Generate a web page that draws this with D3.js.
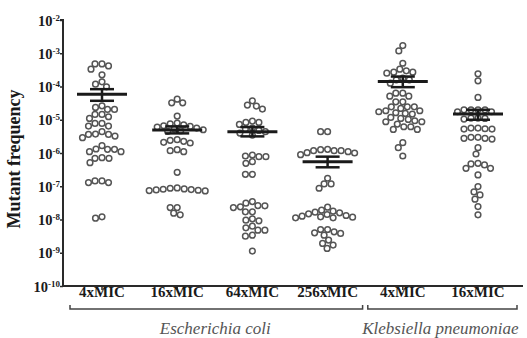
<!DOCTYPE html>
<html>
<head>
<meta charset="utf-8">
<script src="https://cdn.jsdelivr.net/npm/d3@7/dist/d3.min.js"></script>
<style>
  html, body { margin: 0; padding: 0; background: #fff; }
  svg { display: block; }
</style>
</head>
<body>
<svg id="chart" width="527" height="338"></svg>
<script>
// ---- data (log10 of mutant frequency) ----
const categories = ["4xMIC", "16xMIC", "64xMIC", "256xMIC", "4xMIC", "16xMIC"];
const species = ["Escherichia coli", "Klebsiella pneumoniae"];
const speciesGroups = [[0, 3], [4, 5]];
const yTickExponents = [-2, -3, -4, -5, -6, -7, -8, -9, -10];

const ecoli4 = [-3.32, -3.32, -3.38, -3.48, -3.65, -3.86, -3.93, -4.01,
  -4.63, -4.69, -4.84, -4.84, -4.69, -4.58,
  -4.91, -5.11, -5.19, -5.19, -5.11, -4.96,
  -5.43, -5.44, -5.54, -5.49, -5.44, -5.36,
  -5.78, -5.89, -5.96, -5.96, -5.89, -5.88,
  -6.14, -6.29, -6.16, -6.16,
  -6.84, -6.89, -6.89, -6.84,
  -7.96, -7.92];
const ecoli16 = [-4.38, -4.49, -4.49, -4.89,
  -5.10, -5.12, -5.15, -5.18, -5.20, -5.22, -5.25, -5.28, -5.30, -5.33, -5.35,
  -5.60, -5.62, -5.65, -5.68, -5.70,
  -5.90, -5.93, -5.96,
  -6.58,
  -7.06, -7.08, -7.10, -7.12, -7.14, -7.13, -7.11, -7.09, -7.05,
  -7.64, -7.86, -7.81, -7.64];
const ecoli64 = [-4.43, -4.56, -4.59, -4.68,
  -5.04, -5.08, -5.08, -5.14,
  -5.25, -5.28, -5.32, -5.36, -5.40, -5.46,
  -6.06, -6.09, -6.11, -6.11, -6.26, -6.31,
  -6.64, -6.64,
  -7.46, -7.51, -7.58, -7.59, -7.62, -7.64, -7.77, -7.77,
  -7.98, -8.02, -8.04,
  -8.20, -8.25, -8.32, -8.32, -8.47, -8.50,
  -8.95];
const ecoli256 = [-5.36, -5.36,
  -5.89, -5.90, -5.93, -5.93, -5.93, -5.96, -5.99, -6.00, -6.05,
  -6.76, -6.93, -6.93, -7.06,
  -7.63,
  -7.72, -7.75, -7.78, -7.80, -7.83, -7.85, -7.88, -7.90, -7.92, -7.93, -7.95, -7.95,
  -8.30, -8.30, -8.37, -8.40, -8.42, -8.47, -8.62, -8.72, -8.77, -8.87];
const kleb4 = [-2.77, -2.93, -3.30,
  -3.48, -3.53, -3.57, -3.57, -3.60,
  -3.75, -3.80, -3.80, -3.90,
  -4.20, -4.20, -4.29, -4.29,
  -4.46, -4.46, -4.61, -4.61, -4.61, -4.66,
  -4.73, -4.73, -4.76, -4.79, -4.81, -4.83,
  -4.93, -4.96, -4.99, -5.03,
  -5.06, -5.06, -5.13, -5.21, -5.21, -5.29, -5.29,
  -5.69, -5.84, -6.09];
const kleb16 = [-3.62, -3.83, -4.33,
  -4.70, -4.70, -4.70, -4.70, -4.76, -4.76, -4.95, -4.95, -4.96, -4.98,
  -5.25, -5.25, -5.27, -5.28, -5.28,
  -5.53, -5.53, -5.56, -5.56, -5.58,
  -5.84, -6.03,
  -6.31, -6.33, -6.36, -6.46, -6.46, -6.66,
  -7.01, -7.17, -7.26, -7.39, -7.61,
  -7.86];
const seriesValues = [ecoli4, ecoli16, ecoli64, ecoli256, kleb4, kleb16];

// mean and SEM limits (log10)
const means   = [-4.23, -5.31, -5.36, -6.26, -3.85, -4.83];
const semHigh = [-4.08, -5.20, -5.22, -6.11, -3.70, -4.70];
const semLow  = [-4.43, -5.41, -5.50, -6.43, -4.02, -5.00];

// ---- drawing ----
const svg = d3.select("#chart");
const serif = "'Liberation Serif', 'Times New Roman', serif";

const x = d3.scalePoint().domain(d3.range(categories.length)).range([102, 478]);
const y = d3.scaleLog().domain([1e-10, 1e-2]).range([286, 20]);
const axisLeftX = 63, axisRightX = 523;

// y axis
const yAxis = d3.axisLeft(y)
  .tickValues(yTickExponents.map(e => Math.pow(10, e)))
  .tickSize(3)
  .tickFormat(() => "");
const gy = svg.append("g").attr("transform", `translate(${axisLeftX},0)`).call(yAxis);
gy.select(".domain").attr("stroke", "#2a2a2a").attr("stroke-width", 2).attr("d", `M-3,${y(1e-2)}H0V${y(1e-10)}`);
gy.selectAll(".tick line").attr("stroke", "#2a2a2a").attr("stroke-width", 1.5);
gy.selectAll(".tick").each(function(d) {
  const e = Math.round(Math.log10(d));
  const t = d3.select(this).append("text")
    .attr("x", -3).attr("y", 0).attr("dy", "0.35em")
    .attr("text-anchor", "end")
    .attr("fill", "#1a1a1a")
    .style("font-family", serif).style("font-weight", "bold").style("font-size", "14.5px");
  t.append("tspan").text("10");
  t.append("tspan").attr("dy", "-0.55em").style("font-size", "9px").text(String(e));
});

// y label
svg.append("text")
  .attr("transform", `translate(20,${(y(1e-2) + y(1e-10)) / 2 + 6}) rotate(-90)`)
  .attr("text-anchor", "middle")
  .attr("fill", "#1a1a1a")
  .style("font-family", serif).style("font-weight", "bold").style("font-size", "18px")
  .text("Mutant frequency");

// x axis
const gx = svg.append("g").attr("transform", `translate(0,${y(1e-10)})`);
gx.append("path").attr("d", `M${axisLeftX},0H${axisRightX}`).attr("stroke", "#2a2a2a").attr("stroke-width", 2).attr("fill", "none");
gx.selectAll("line.tick").data(d3.range(categories.length)).join("line")
  .attr("class", "tick")
  .attr("x1", d => x(d)).attr("x2", d => x(d)).attr("y1", 0).attr("y2", 4)
  .attr("stroke", "#2a2a2a").attr("stroke-width", 1.5);
gx.selectAll("text.cat").data(categories).join("text")
  .attr("class", "cat")
  .attr("x", (d, i) => x(i)).attr("y", 11)
  .attr("text-anchor", "middle")
  .attr("fill", "#1a1a1a")
  .style("font-family", serif).style("font-weight", "bold").style("font-size", "15px")
  .text(d => d);

// species braces and labels
const braceY = 309;
speciesGroups.forEach((g, i) => {
  const x0 = x(g[0]) - 32 - (i === 1 ? 3 : 0);
  const x1 = x(g[1]) + 35 + (i === 1 ? 4 : 0);
  svg.append("path")
    .attr("d", `M${x0},${braceY - 4}V${braceY}H${x1}V${braceY - 4}`)
    .attr("fill", "none").attr("stroke", "#444").attr("stroke-width", 1.5);
  svg.append("text")
    .attr("x", (x0 + x1) / 2 + (i === 0 ? -1 : -2)).attr("y", 334)
    .attr("text-anchor", "middle")
    .attr("fill", "#555")
    .style("font-family", serif).style("font-style", "italic").style("font-size", "17px")
    .text(species[i]);
});

// beeswarm layout
const r = 2.85, minDist = 6.6;
function swarm(vals, cx) {
  const pts = vals.map(v => ({ v, py: y(Math.pow(10, v)) }))
    .sort((a, b) => a.py - b.py);
  const placed = [];
  pts.forEach(p => {
    let best = 0;
    for (let k = 0; k < 400; k++) {
      const off = (k % 2 === 0 ? 1 : -1) * Math.ceil(k / 2) * 0.5;
      const ok = placed.every(q => {
        const dx = q.px - (cx + off), dy = q.py - p.py;
        return dx * dx + dy * dy >= minDist * minDist;
      });
      if (ok) { best = off; break; }
    }
    p.px = cx + best;
    placed.push(p);
  });
  return placed;
}

const gPts = svg.append("g");
seriesValues.forEach((vals, i) => {
  const pts = swarm(vals, x(i));
  gPts.append("g").selectAll("circle").data(pts).join("circle")
    .attr("cx", d => d.px).attr("cy", d => d.py).attr("r", r)
    .attr("fill", "none").attr("stroke", "#555").attr("stroke-width", 1.5);
});

// mean and SEM bars
const gBars = svg.append("g");
means.forEach((m, i) => {
  const cx = x(i);
  const g = gBars.append("g").attr("stroke", "#1a1a1a");
  g.append("line").attr("x1", cx).attr("x2", cx)
    .attr("y1", y(Math.pow(10, semHigh[i]))).attr("y2", y(Math.pow(10, semLow[i])))
    .attr("stroke-width", 2.5);
  [semHigh[i], semLow[i]].forEach(v => {
    g.append("line").attr("x1", cx - 12).attr("x2", cx + 12)
      .attr("y1", y(Math.pow(10, v))).attr("y2", y(Math.pow(10, v)))
      .attr("stroke-width", 2.5);
  });
  g.append("line").attr("x1", cx - 25).attr("x2", cx + 25)
    .attr("y1", y(Math.pow(10, m))).attr("y2", y(Math.pow(10, m)))
    .attr("stroke-width", 3);
});
</script>
</body>
</html>
